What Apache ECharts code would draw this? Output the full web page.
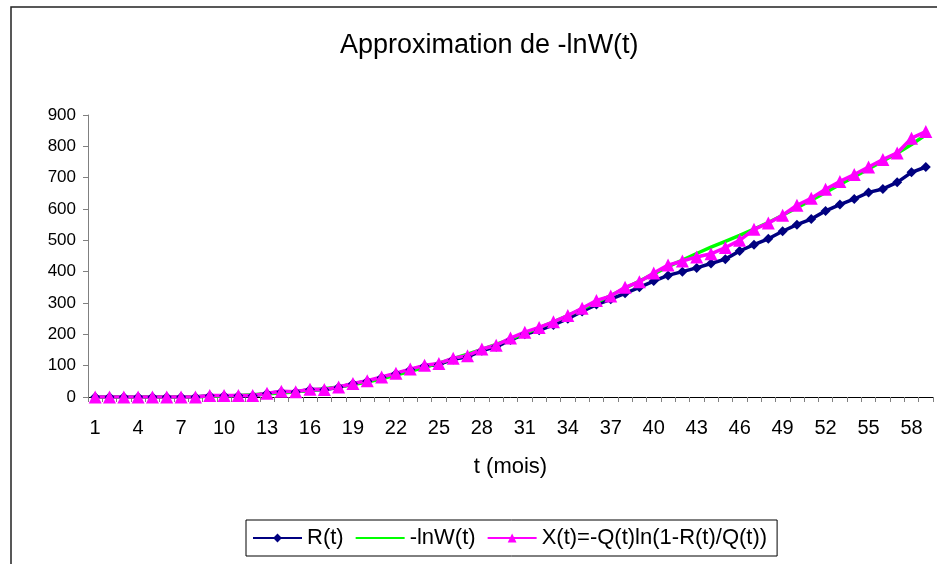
<!DOCTYPE html>
<html>
<head>
<meta charset="utf-8">
<script src="https://cdn.jsdelivr.net/npm/echarts@6/dist/echarts.min.js"></script>
<style>
  html, body { margin: 0; padding: 0; background: #fff; }
  #chart { width: 937px; height: 564px; }
</style>
</head>
<body>
<div id="chart"></div>
<script>
  // mois 1..59
  var months = [];
  for (var i = 1; i <= 59; i++) months.push(String(i));

  // R(t)
  var rValues = [0, 0, 0, 0, 0, 0, 0, 0, 4, 4, 4, 4, 11, 17, 16, 24, 23, 31,
    42, 50, 62, 74, 87, 99, 104, 120, 128, 148, 160, 182, 200, 213, 230, 250,
    273, 295, 312, 331, 350, 370, 388, 400, 412, 426, 440, 466, 486, 505, 529,
    550, 568, 594, 614, 632, 653, 664, 685, 717, 734];

  // -lnW(t)
  var lnWValues = [0, 0, 0, 0, 0, 0, 0, 1, 2, 3, 5, 7, 10, 13, 17, 21, 26, 32,
    40, 48, 58, 70, 82, 95, 108, 122, 137, 152, 168, 185, 203, 221, 240, 260,
    281, 302, 324, 347, 370, 393, 416, 437, 458, 478, 497, 516, 536, 557, 580,
    604, 628, 653, 678, 703, 728, 753, 778, 806, 837];

  // X(t)=-Q(t)ln(1-R(t)/Q(t))
  var xValues = [0, 0, 0, 0, 0, 0, 0, 0, 5, 5, 5, 5, 12, 18, 17, 25, 24, 32,
    43, 52, 64, 76, 89, 101, 107, 124, 132, 153, 165, 188, 207, 222, 240, 260,
    283, 308, 322, 350, 368, 396, 421, 434, 447, 457, 477, 500, 535, 555, 580,
    612, 634, 663, 688, 710, 734, 758, 779, 826, 847];

  var fontName = 'Liberation Sans';

  var chart = echarts.init(document.getElementById('chart'));
  chart.setOption({
    animation: false,
    textStyle: { fontFamily: fontName, color: '#000' },
    title: {
      text: 'Approximation de -lnW(t)',
      left: 335,
      top: 27,
      textStyle: { fontFamily: fontName, fontSize: 27, fontWeight: 'normal', color: '#000' }
    },
    graphic: [{
      type: 'rect',
      shape: { x: 11, y: 7, width: 960, height: 600 },
      style: { fill: 'none', stroke: '#222', lineWidth: 1.5 },
      silent: true
    }],
    grid: { left: 88, right: 4, top: 115, bottom: 167 },
    legend: {
      left: 246,
      top: 520,
      padding: [7, 10, 7, 6],
      borderColor: '#000',
      borderWidth: 1,
      itemWidth: 49,
      itemHeight: 11,
      itemGap: 11,
      textStyle: { fontFamily: fontName, fontSize: 22, color: '#000' },
      data: [
        'R(t)',
        { name: '-lnW(t)', itemStyle: { opacity: 0 } },
        'X(t)=-Q(t)ln(1-R(t)/Q(t))'
      ]
    },
    xAxis: {
      type: 'category',
      data: months,
      boundaryGap: true,
      name: 't (mois)',
      nameLocation: 'middle',
      nameGap: 59,
      nameTextStyle: { fontFamily: fontName, fontSize: 22, color: '#000' },
      axisLine: { lineStyle: { color: '#000', width: 1 } },
      axisTick: { show: true, interval: 0, length: 5, lineStyle: { color: '#808080' } },
      axisLabel: { interval: 2, fontSize: 20, margin: 21, color: '#000' },
      splitLine: { show: false }
    },
    yAxis: {
      type: 'value',
      min: 0,
      max: 900,
      interval: 100,
      axisLine: { show: true, lineStyle: { color: '#808080', width: 1 } },
      axisTick: { show: true, length: 5, lineStyle: { color: '#808080' } },
      axisLabel: { fontSize: 17, margin: 12, color: '#000' },
      splitLine: { show: false }
    },
    series: [
      {
        name: 'R(t)',
        type: 'line',
        data: rValues,
        symbol: 'diamond',
        symbolSize: 10,
        showAllSymbol: true,
        color: '#000080',
        lineStyle: { width: 3.5, color: '#000080' },
        itemStyle: { color: '#000080' }
      },
      {
        name: '-lnW(t)',
        type: 'line',
        data: lnWValues,
        symbol: 'none',
        color: '#00FF00',
        lineStyle: { width: 3.5, color: '#00FF00' }
      },
      {
        name: 'X(t)=-Q(t)ln(1-R(t)/Q(t))',
        type: 'line',
        data: xValues,
        symbol: 'triangle',
        symbolSize: 13,
        showAllSymbol: true,
        color: '#FF00FF',
        lineStyle: { width: 3.5, color: '#FF00FF' },
        itemStyle: { color: '#FF00FF' }
      }
    ]
  });
</script>
</body>
</html>
